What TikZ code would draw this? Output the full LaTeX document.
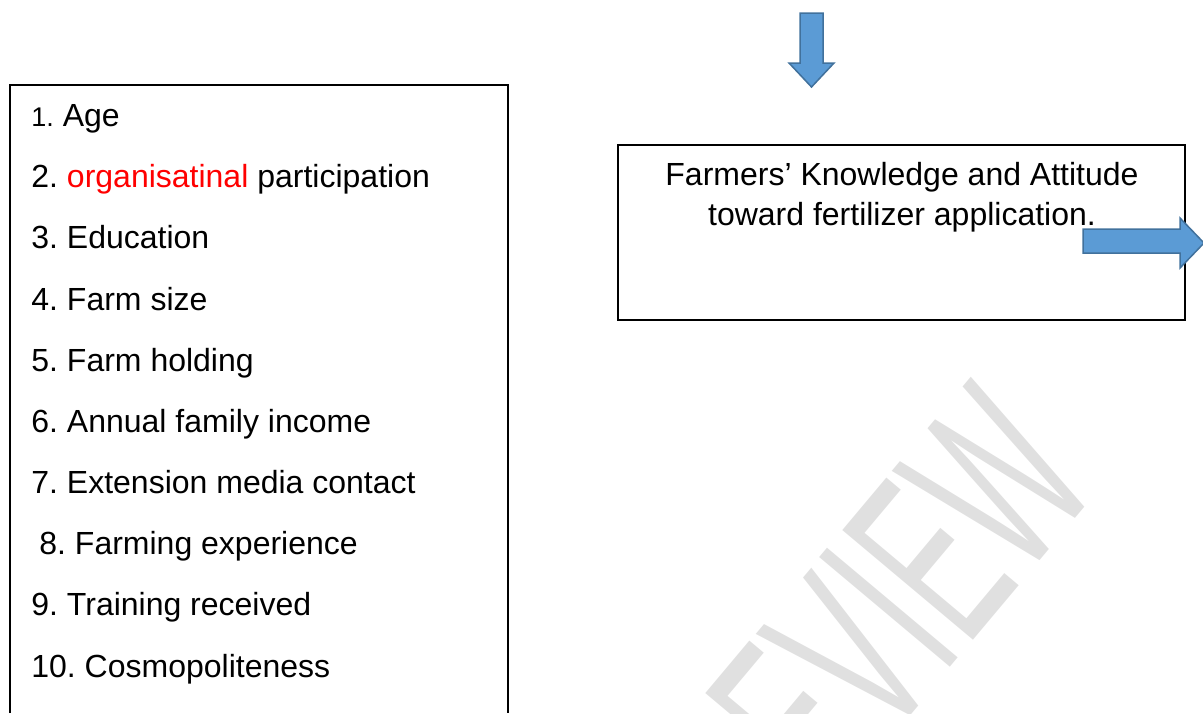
\documentclass[tikz,border=0pt]{standalone}
\usepackage{fontspec}
\setmainfont{Liberation Sans}
\usetikzlibrary{positioning}
\definecolor{arrowblue}{HTML}{5B9BD5}
\definecolor{arrowedge}{HTML}{41719C}
\definecolor{markgray}{HTML}{E0E0E0}
\definecolor{typored}{HTML}{FF0000}
\frenchspacing

\tikzset{
  item/.style={anchor=base west, inner sep=0pt, font=\fontsize{16}{16}\selectfont},
  boxline/.style={draw=black, line width=1pt},
  blockarrow/.style={fill=arrowblue, draw=arrowedge, line width=0.75pt, line join=miter},
}

\begin{document}
\begin{tikzpicture}[x=0.5pt, y=-0.5pt]
  \useasboundingbox (0,0) rectangle (1203,713);

  % watermark behind everything
  \node[rotate=50, text=markgray, inner sep=0pt, font=\fontsize{124}{124}\selectfont] (watermark) at (842,664) {\scalebox{0.53}[1]{PREVIEW}};

  % Left box - variables (open at the bottom)
  \draw[boxline] (10,713) -- (10,85) -- (508,85) -- (508,713);
  \node[item] (item1) at (31,126) {{\fontsize{13.5}{13.5}\selectfont 1.} Age};
  \node[item] (item2) at (31,187) {2. \textcolor{typored}{organisatinal} participation};
  \node[item] (item3) at (31,248) {3. Education};
  \node[item] (item4) at (31,310) {4. Farm size};
  \node[item] (item5) at (31,371) {5. Farm holding};
  \node[item] (item6) at (31,432) {6. Annual family income};
  \node[item] (item7) at (31,493) {7. Extension media contact};
  \node[item] (item8) at (39,554) {8. Farming experience};
  \node[item] (item9) at (31,615) {9. Training received};
  \node[item] (item10) at (31,677) {10. Cosmopoliteness};

  % Right box - knowledge and attitude
  \draw[boxline] (618,145) rectangle (1185,320);
  \node[item, anchor=base] (knowline1) at (902,185) {Farmers’ Knowledge and Attitude};
  \node[item, anchor=base] (knowline2) at (902,225) {toward fertilizer application.};

  % Block arrows
  \draw[blockarrow] (800,13) -- (823,13) -- (823,63) -- (834,63) -- (811.5,87) -- (789,63) -- (800,63) -- cycle;
  \draw[blockarrow] (1083,229) -- (1180,229) -- (1180,218) -- (1204,243) -- (1180,268) -- (1180,253) -- (1083,253) -- cycle;
\end{tikzpicture}
\end{document}
